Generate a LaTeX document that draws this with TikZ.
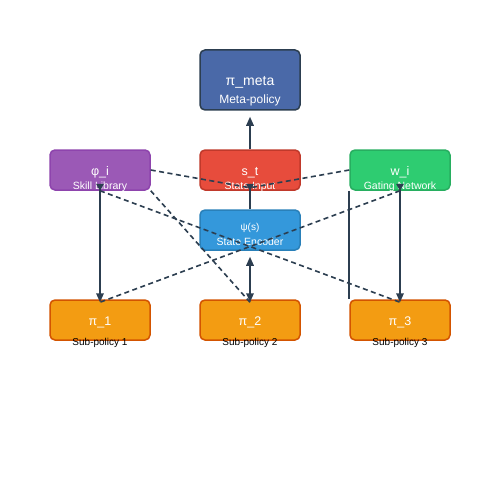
\documentclass[tikz,border=0pt]{standalone}
\usepackage{fontspec}
\setmainfont{Liberation Sans}
\usetikzlibrary{arrows.meta}
\definecolor{navy}{HTML}{2C3E50}
\definecolor{metafill}{HTML}{4A69A8}
\definecolor{purplefill}{HTML}{9B59B6}
\definecolor{purpleedge}{HTML}{8E44AD}
\definecolor{redfill}{HTML}{E74C3C}
\definecolor{rededge}{HTML}{C0392B}
\definecolor{greenfill}{HTML}{2ECC71}
\definecolor{greenedge}{HTML}{27AE60}
\definecolor{bluefill}{HTML}{3498DB}
\definecolor{blueedge}{HTML}{2980B9}
\definecolor{orangefill}{HTML}{F39C12}
\definecolor{orangeedge}{HTML}{D35400}
\begin{document}
\begin{tikzpicture}[x=1pt,y=-1pt,
  box/.style={draw, line width=1.5pt, rounded corners=5pt, minimum width=100pt, minimum height=40pt, inner sep=0pt},
  ttl/.style={text=white, anchor=base, inner sep=0pt, font=\fontsize{12.5}{13}\selectfont},
  sub/.style={text=white, anchor=base, inner sep=0pt, font=\fontsize{10.5}{11}\selectfont},
  subblack/.style={text=black, anchor=base, inner sep=0pt, font=\fontsize{10}{11}\selectfont},
  solidline/.style={draw=navy, line width=1.6pt},
  dashline/.style={draw=navy, line width=1.6pt, dash pattern=on 5pt off 3.5pt},
  tipA/.style={-{Triangle[length=9pt,width=7.5pt]}},
  tipboth/.style={{Triangle[reversed,length=7pt,width=7.5pt]}-{Triangle[length=9pt,width=7.5pt]}}
]
\fill[white] (0,0) rectangle (500,500);
\useasboundingbox (0,0) rectangle (500,500);

% boxes
\node[box, draw=navy, fill=metafill, minimum height=60pt] (meta) at (250,80) {};
\node[box, draw=purpleedge, fill=purplefill] (phi) at (100,170) {};
\node[box, draw=rededge, fill=redfill] (st) at (250,170) {};
\node[box, draw=greenedge, fill=greenfill] (wi) at (400,170) {};
\node[box, draw=blueedge, fill=bluefill] (psi) at (250,230) {};
\node[box, draw=orangeedge, fill=orangefill] (pi1) at (100,320) {};
\node[box, draw=orangeedge, fill=orangefill] (pi2) at (250,320) {};
\node[box, draw=orangeedge, fill=orangefill] (pi3) at (400,320) {};

% texts
\node[ttl, font=\fontsize{14}{15}\selectfont] (metaT) at (250,86) {π\_meta};
\node[sub, font=\fontsize{12}{13}\selectfont] (metaS) at (250,104) {Meta-policy};
\node[ttl] (phiT) at (100,175) {φ\_i};
\node[sub] (phiS) at (100,189.5) {Skill Library};
\node[ttl] (stT) at (250,175) {s\_t};
\node[sub] (stS) at (250,189.5) {State Input};
\node[ttl] (wiT) at (400,175) {w\_i};
\node[sub] (wiS) at (400,189.5) {Gating Network};
\node[sub, font=\fontsize{10}{11}\selectfont] (psiT) at (250,230) {ψ(s)};
\node[sub] (psiS) at (250,245) {State Encoder};
\node[ttl] (pi1T) at (100,325.5) {π\_1};
\node[subblack] (pi1S) at (100,345) {Sub-policy 1};
\node[ttl] (pi2T) at (250,325.5) {π\_2};
\node[subblack] (pi2S) at (250,345) {Sub-policy 2};
\node[ttl] (pi3T) at (400,325.5) {π\_3};
\node[subblack] (pi3S) at (400,345) {Sub-policy 3};

% solid connectors
\draw[solidline, tipA, shorten >=6pt] (st.north) -- (meta.south);
\draw[solidline, {Triangle[reversed,length=7pt,width=7.5pt]}-, shorten <=-7pt] (st.south) -- (psi.north);
\draw[solidline, {Triangle[length=9pt,width=7.5pt]}-{Triangle[length=9pt,width=7.5pt]}, shorten <=-3pt, shorten >=6pt] (pi2.north) -- (psi.south);
\draw[solidline, tipboth, shorten <=-7pt, shorten >=-3pt] (phi.south) -- (pi1.north);
\draw[solidline, tipboth, shorten <=-7pt, shorten >=-3pt] (wi.south) -- (pi3.north);
\draw[solidline] (wi.south west) -- (pi3.north west);

% dashed connectors
\draw[dashline] (phi.east) -- ([yshift=3pt]st.south);
\draw[dashline] (wi.west) -- ([yshift=3pt]st.south);
\draw[dashline] (phi.south east) -- ([yshift=-3pt]pi2.north);
\draw[dashline] (phi.south) -- ([yshift=-3pt]pi3.north);
\draw[dashline] (wi.south) -- ([yshift=-3pt]pi1.north);
\end{tikzpicture}
\end{document}
